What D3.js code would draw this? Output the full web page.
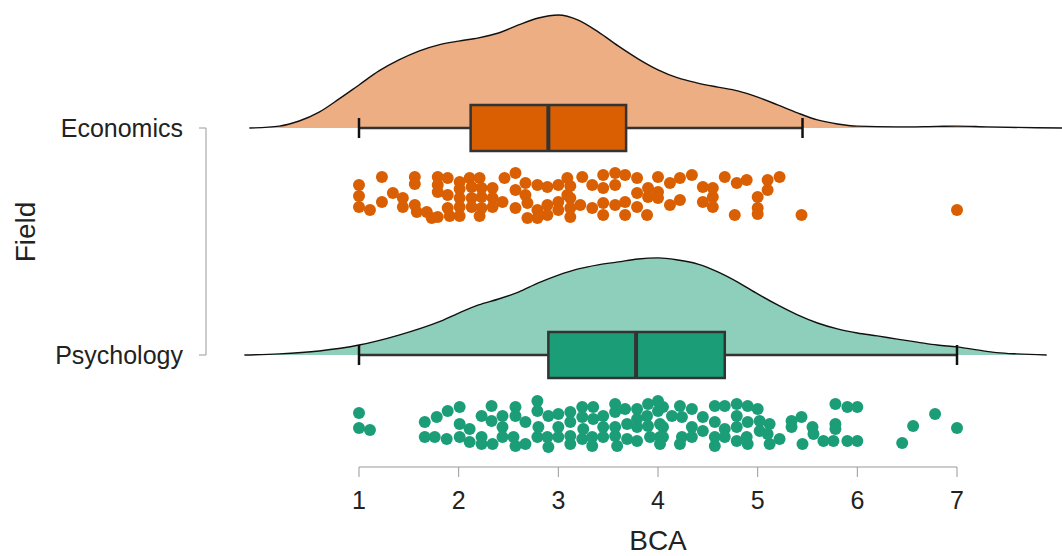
<!DOCTYPE html>
<meta charset="utf-8">
<style>
body { margin: 0; background: #fff; }
svg { font-family: "Liberation Sans", Arial, sans-serif; }
.axis-line { stroke: #999; stroke-width: 1; }
.tick-label { font-size: 25px; fill: #222; }
.title { font-size: 28px; fill: #222; }
</style>
<svg width="1062" height="556"></svg>
<script src="https://d3js.org/d3.v7.min.js"></script>
<script>

var fields = ["Economics", "Psychology"];
var xTicks = [1, 2, 3, 4, 5, 6, 7];

// density estimates (value grid, density)
var econDensX = [-0.1, 0.2, 0.4, 0.6, 0.8, 1.0, 1.2, 1.4, 1.6, 1.8, 2.0, 2.2, 2.4, 2.6, 2.8, 3.0, 3.2, 3.4, 3.6, 3.8, 4.0, 4.2, 4.4, 4.6, 4.8, 5.0, 5.2, 5.4, 5.6, 5.8, 6.0, 6.4, 6.8, 7.0, 7.3, 7.8, 8.1];
var econDensY = [0, .007, .026, .059, .108, .160, .212, .253, .286, .309, .323, .335, .353, .383, .409, .420, .401, .357, .305, .257, .216, .186, .167, .152, .138, .115, .086, .056, .030, .015, .007, .004, .006, .007, .004, .001, 0];
var psyDensX = [-0.15, 0.2, 0.6, 1.0, 1.4, 1.8, 2.0, 2.2, 2.4, 2.6, 2.8, 3.0, 3.2, 3.4, 3.6, 3.8, 4.0, 4.2, 4.4, 4.6, 4.8, 5.0, 5.2, 5.4, 5.6, 5.8, 6.0, 6.2, 6.4, 6.6, 6.8, 7.0, 7.2, 7.4, 7.6, 7.9];
var psyDensY = [0, .004, .015, .037, .074, .123, .156, .186, .208, .234, .268, .297, .320, .335, .346, .357, .361, .353, .338, .309, .271, .227, .186, .149, .119, .097, .082, .071, .059, .048, .037, .030, .019, .009, .004, 0];

// box summaries: [whisker low, q1, median, q3, whisker high]
var econBox = [1.0, 2.12, 2.9, 3.68, 5.45];
var psyBox = [1.0, 2.9, 3.78, 4.67, 7.0];

// observations: [BCA, vertical jitter in -1..1]
var econPoints = [
  [1.00,-0.6],[1.00,-0.05],[1.00,0.5],[1.23,-1],[1.11,0.65],[1.23,0.25],[1.34,-0.2],[1.44,0.05],[1.44,0.5],
  [1.56,-1],[1.56,-0.65],[1.56,0.4],[1.58,0.75],[1.68,0.75],[1.73,1.05],
  [1.79,-1],[1.79,-0.6],[1.79,-0.25],[1.79,1],[1.89,-0.95],[1.89,-0.1],[1.89,0.55],[1.91,0.95],
  [2.01,-0.75],[2.01,-0.4],[2.01,0.05],[2.01,0.5],[2.01,0.95],[2.11,-0.95],[2.13,-0.5],[2.13,0.05],[2.13,0.5],
  [2.21,-0.95],[2.21,0.95],[2.23,-0.45],[2.23,0],[2.23,0.55],[2.34,-0.45],[2.34,0.05],[2.34,0.5],
  [2.46,-0.95],[2.44,0.25],[2.57,-1.2],[2.57,-0.35],[2.57,0.55],[2.67,-0.7],[2.67,-0.1],[2.69,0.3],[2.69,1.05],
  [2.79,-0.6],[2.79,0.65],[2.79,1.05],[2.89,-0.5],[2.89,0.4],[2.89,0.9],[3.00,-0.6],[3.00,0.25],[3.00,0.65],
  [3.09,-0.95],[3.09,-0.1],[3.12,-0.55],[3.12,0.05],[3.12,0.55],[3.12,1],[3.24,-1],[3.22,0.4],
  [3.34,-0.6],[3.34,0.55],[3.45,-1.1],[3.45,-0.45],[3.45,0.3],[3.45,0.9],[3.57,-1.2],[3.57,-0.6],[3.57,0.4],
  [3.67,-1.1],[3.67,0.25],[3.67,0.9],[3.79,-0.95],[3.79,-0.2],[3.79,0.5],[3.90,-0.45],[3.90,0],[3.89,0.9],
  [4.00,-1],[4.00,-0.25],[4.00,0.05],[4.12,-0.7],[4.12,0.4],[4.22,-0.95],[4.22,0.15],[4.34,-1.1],
  [4.45,-0.5],[4.45,0.25],[4.55,-0.45],[4.55,0],[4.55,0.5],[4.67,-1],[4.79,-0.7],[4.77,0.9],[4.89,-0.85],
  [5.00,0],[5.00,0.55],[5.00,0.85],[5.10,-0.85],[5.10,-0.35],[5.22,-1],[5.44,0.9],[7.00,0.65]
];
var psyPoints = [
  [1.00,-0.55],[1.00,0.2],[1.11,0.3],[1.66,-0.1],[1.66,0.65],[1.78,-0.35],[1.76,0.65],[1.89,-0.65],[1.88,0.75],
  [2.01,-0.85],[2.01,0],[2.01,0.65],[2.11,0.25],[2.11,0.9],[2.23,-0.4],[2.23,0.65],[2.23,1],
  [2.33,-0.9],[2.33,-0.15],[2.34,1],[2.44,-0.4],[2.44,0.15],[2.44,0.65],
  [2.57,-0.85],[2.57,-0.4],[2.55,0.65],[2.57,1.1],[2.67,-0.1],[2.67,1],
  [2.79,-1.15],[2.79,-0.65],[2.80,0.15],[2.79,0.65],[2.90,-0.4],[2.89,0.65],[2.90,1.15],
  [3.00,-0.5],[3.00,0.15],[3.00,0.65],[3.12,-0.6],[3.12,-0.1],[3.12,0.6],[3.12,1],
  [3.24,-0.85],[3.24,-0.35],[3.25,0.25],[3.24,0.75],[3.35,-0.85],[3.35,-0.25],[3.34,0.65],[3.34,1.1],
  [3.45,-0.4],[3.45,0.15],[3.45,0.65],[3.57,-1],[3.57,-0.6],[3.57,0.15],[3.57,0.6],[3.59,1.1],
  [3.67,-0.75],[3.69,0],[3.69,0.75],[3.79,-0.75],[3.79,-0.25],[3.79,0.15],[3.79,0.85],
  [3.90,-1],[3.89,-0.4],[3.90,0.1],[3.92,0.65],[4.00,-1.15],[4.00,-0.65],[4.02,0],[4.02,0.65],[4.02,1],
  [4.05,-0.85],[4.05,0.15],[4.05,0.65],[4.14,-0.4],[4.22,-0.9],[4.24,-0.35],[4.24,0.65],[4.22,1],
  [4.34,-0.75],[4.34,0.15],[4.34,0.65],[4.45,-0.35],[4.45,0.35],
  [4.57,-0.9],[4.57,-0.1],[4.57,0.65],[4.57,1.1],[4.67,-0.9],[4.67,0.25],[4.67,0.65],
  [4.79,-1],[4.79,-0.4],[4.79,0.15],[4.79,0.85],[4.90,-0.9],[4.90,-0.1],[4.89,0.65],[4.90,1],
  [5.00,-0.75],[5.02,-0.15],[5.02,0.35],[5.12,0],[5.10,0.5],[5.12,1],[5.22,0.75],
  [5.34,-0.15],[5.34,0.15],[5.44,-0.35],[5.45,1],[5.55,0.15],[5.56,0.5],[5.66,0.85],
  [5.78,-1],[5.78,0],[5.78,0.25],[5.76,0.85],[5.90,-0.85],[5.90,0.85],[6.00,-0.85],[6.00,0.85],
  [6.45,0.95],[6.56,0.1],[6.78,-0.5],[7.00,0.2]
];

var series = [
  {field: "Economics", densX: econDensX, densY: econDensY, box: econBox, points: econPoints,
   fill: "#D95F02", light: "#EDAE83"},
  {field: "Psychology", densX: psyDensX, densY: psyDensY, box: psyBox, points: psyPoints,
   fill: "#1B9E77", light: "#8DCFBB"}
];

var svg = d3.select("svg");

var x = d3.scaleLinear().domain([1, 7]).range([359, 957]);
var y = d3.scalePoint().domain(fields).range([128, 355]);
var dens = d3.scaleLinear().domain([0, 0.42]).range([0, 113]);
var jitter = d3.scaleLinear().domain([-1, 1]).range([-20, 20]);
var pointOffset = 69, boxHalf = 23;

var plot = svg.append("g");

series.forEach(function(s) {
  var base = y(s.field);
  var pts = s.densX.map(function(v, i) { return [v, s.densY[i]]; });

  var area = d3.area()
      .x(function(d) { return x(d[0]); })
      .y0(base)
      .y1(function(d) { return base - dens(d[1]); })
      .curve(d3.curveMonotoneX);
  var line = d3.line()
      .x(function(d) { return x(d[0]); })
      .y(function(d) { return base - dens(d[1]); })
      .curve(d3.curveMonotoneX);

  plot.append("path").attr("d", area(pts)).attr("fill", s.light);
  plot.append("path").attr("d", line(pts)).attr("fill", "none")
      .attr("stroke", "#111").attr("stroke-width", 1.4);

  // whisker
  plot.append("line")
      .attr("x1", x(s.box[0])).attr("x2", x(s.box[4]))
      .attr("y1", base).attr("y2", base)
      .attr("stroke", "#333").attr("stroke-width", 2.5);
  [s.box[0], s.box[4]].forEach(function(v) {
    plot.append("line")
        .attr("x1", x(v)).attr("x2", x(v))
        .attr("y1", base - 10).attr("y2", base + 10)
        .attr("stroke", "#111").attr("stroke-width", 2.5);
  });

  // box
  plot.append("rect")
      .attr("x", x(s.box[1])).attr("width", x(s.box[3]) - x(s.box[1]))
      .attr("y", base - boxHalf).attr("height", boxHalf * 2)
      .attr("fill", s.fill).attr("stroke", "#333").attr("stroke-width", 2.5);
  plot.append("line")
      .attr("x1", x(s.box[2])).attr("x2", x(s.box[2]))
      .attr("y1", base - boxHalf).attr("y2", base + boxHalf)
      .attr("stroke", "#333").attr("stroke-width", 4);

  // points
  plot.append("g").selectAll("circle")
    .data(s.points)
    .join("circle")
      .attr("cx", function(d) { return x(d[0]); })
      .attr("cy", function(d) { return base + pointOffset + jitter(d[1]); })
      .attr("r", 6)
      .attr("fill", s.fill);
});

// x axis
var axisY = 467;
var xa = svg.append("g");
xa.append("line").attr("class", "axis-line")
    .attr("x1", x(xTicks[0])).attr("x2", x(xTicks[xTicks.length - 1]))
    .attr("y1", axisY).attr("y2", axisY);
xa.selectAll(".xt").data(xTicks).join("line").attr("class", "axis-line")
    .attr("x1", function(d) { return x(d); }).attr("x2", function(d) { return x(d); })
    .attr("y1", axisY).attr("y2", axisY + 10);
xa.selectAll("text").data(xTicks).join("text").attr("class", "tick-label")
    .attr("x", function(d) { return x(d); }).attr("y", 509)
    .attr("text-anchor", "middle")
    .text(function(d) { return d; });
svg.append("text").attr("class", "title")
    .attr("x", 658).attr("y", 550).attr("text-anchor", "middle").text("BCA");

// y axis
var axisX = 206;
var ya = svg.append("g");
ya.append("line").attr("class", "axis-line")
    .attr("x1", axisX).attr("x2", axisX)
    .attr("y1", y(fields[0])).attr("y2", y(fields[fields.length - 1]));
ya.selectAll(".yt").data(fields).join("line").attr("class", "axis-line")
    .attr("x1", axisX - 7).attr("x2", axisX)
    .attr("y1", function(d) { return y(d); }).attr("y2", function(d) { return y(d); });
ya.selectAll("text").data(fields).join("text").attr("class", "tick-label")
    .attr("x", 183).attr("y", function(d) { return y(d); })
    .attr("dy", "0.35em").attr("text-anchor", "end")
    .text(function(d) { return d; });
svg.append("text").attr("class", "title")
    .attr("transform", "translate(35,232) rotate(-90)")
    .attr("text-anchor", "middle").text("Field");

</script>
